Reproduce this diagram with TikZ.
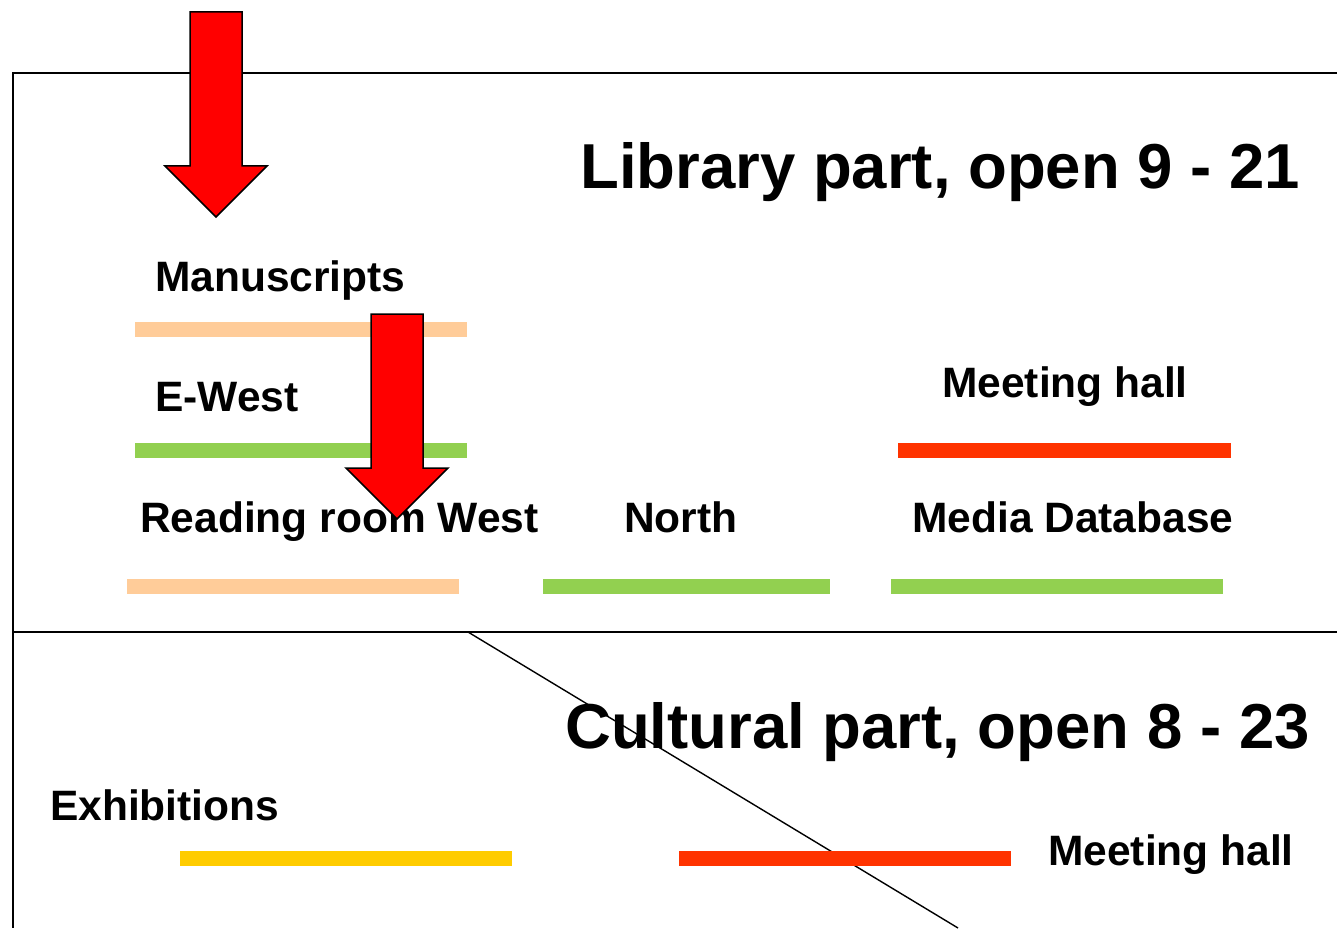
\documentclass[tikz,border=0pt]{standalone}
\usepackage{fontspec}
\setmainfont{Liberation Sans}
\definecolor{peach}{HTML}{FFCC99}
\definecolor{lgreen}{HTML}{92D050}
\definecolor{hred}{HTML}{FF3300}
\definecolor{gold}{HTML}{FFCC00}
\begin{document}
\begin{tikzpicture}[x=1pt,y=-1pt,
  lbl/.style={anchor=base west,inner sep=0pt,font=\fontsize{42.5}{42.5}\selectfont\bfseries},
  ttl/.style={anchor=base west,inner sep=0pt,font=\fontsize{63.5}{63.5}\selectfont\bfseries},
  frame/.style={line width=2pt,black},
  redarrow/.style={fill=red,draw=black,line width=1.5pt,line join=miter}]
\useasboundingbox (0,0) rectangle (1337,928);
% frame
\draw[frame] (1337,73) -- (13,73) -- (13,928);
\draw[frame] (13,632) -- (1337,632);
% titles
\node[ttl] (lib) at (580,189) {Library part, open 9 - 21};
\node[ttl] (cul) at (565,748) {Cultural part, open 8 - 23};
% labels
\node[lbl] (manu) at (155,291) {Manuscripts};
\node[lbl] (ewest) at (155,411) {E-West};
\node[lbl] (meet1) at (942,397) {Meeting hall};
\node[lbl] (read) at (140,532) {Reading room West};
\node[lbl] (north) at (624,532) {North};
\node[lbl] (media) at (912,532) {Media Database};
\node[lbl] (exh) at (50,820) {Exhibitions};
\node[lbl] (meet2) at (1048,865) {Meeting hall};
% diagonal line
\coordinate (d1) at (468,632);
\coordinate (d2) at (958,928);
\draw[line width=1.4pt] (d1) -- (d2);
% bars
\fill[peach] (135,322) rectangle (467,337);
\fill[lgreen] (135,443) rectangle (467,458);
\fill[hred] (898,443) rectangle (1231,458);
\fill[peach] (127,579) rectangle (459,594);
\fill[lgreen] (543,579) rectangle (830,594);
\fill[lgreen] (891,579) rectangle (1223,594);
\fill[gold] (180,851) rectangle (512,866);
\fill[hred] (679,851) rectangle (1011,866);
% arrows
\draw[redarrow] (190,12) -- (242,12) -- (242,166) -- (267,166) -- (216,217) -- (165,166) -- (190,166) -- cycle;
\draw[redarrow] (371,314) -- (423,314) -- (423,468) -- (448,468) -- (397,519) -- (346,468) -- (371,468) -- cycle;
\end{tikzpicture}
\end{document}
